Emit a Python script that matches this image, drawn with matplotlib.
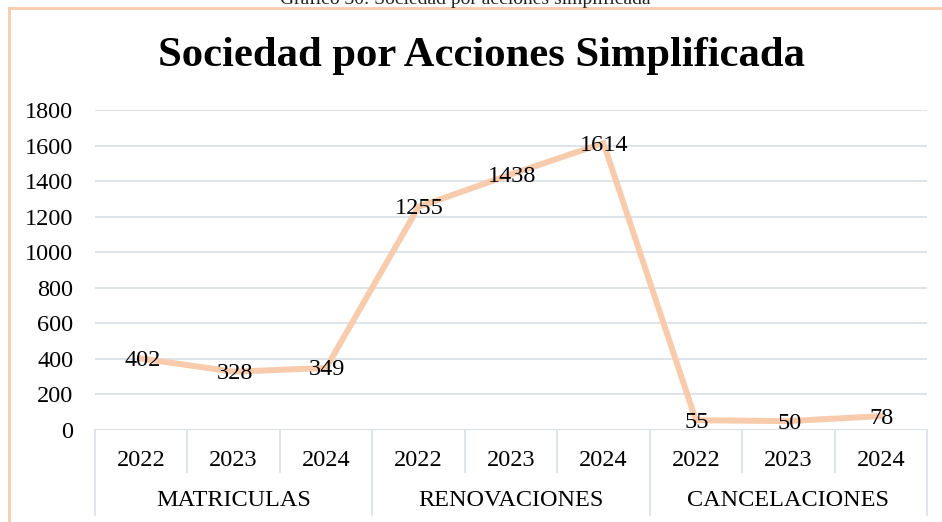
import matplotlib.pyplot as plt
from matplotlib.lines import Line2D

# Datos
grupos = ["MATRICULAS", "RENOVACIONES", "CANCELACIONES"]
anios = ["2022", "2023", "2024"]
valores = [402, 328, 349, 1255, 1438, 1614, 55, 50, 78]
yticks = [0, 200, 400, 600, 800, 1000, 1200, 1400, 1600, 1800]

plt.rcParams['font.family'] = ['Liberation Serif', 'DejaVu Serif']

W, H = 942, 522
fig = plt.figure(figsize=(W / 100, H / 100), dpi=100)

# borde de la figura
fig.add_artist(Line2D([8.5 / W, 8.5 / W], [0, 1 - 7.5 / H], transform=fig.transFigure,
                      color='#F8CBAD', lw=2))
fig.add_artist(Line2D([8.5 / W, 1], [1 - 7.5 / H, 1 - 7.5 / H], transform=fig.transFigure,
                      color='#F8CBAD', lw=2))

# leyenda del gráfico (recortada arriba)
fig.text(465 / W, 1 - 4 / H, "Gráfico 30: Sociedad por acciones simplificada",
         ha='center', va='baseline', fontsize=14, color='#222222')

ax = fig.add_axes([95 / W, 92 / H, 832 / W, 320 / H])
n = len(valores)
x = list(range(n))
ax.plot(x, valores, color='#F8CBAD', lw=4.3, solid_joinstyle='miter', zorder=3)

for xi, v in zip(x, valores):
    ax.annotate(str(v), (xi, v), xytext=(1, -2), textcoords='offset pixels',
                ha='center', va='center', fontsize=17.5, color='black', zorder=4)

ax.set_xlim(-0.5, n - 0.5)
ax.set_ylim(0, 1800)
ax.set_yticks(yticks)
ax.tick_params(axis='y', length=0, pad=15.5, labelsize=17.5)
ax.set_xticks([])
ax.grid(axis='y', color='#D9DEE6', lw=1.2, zorder=0)
for s in ax.spines.values():
    s.set_visible(False)
ax.axhline(0, color='#D9DEE6', lw=1.2, zorder=1)

# separadores del eje de categorías
px = 1 / 320  # un píxel en coordenadas del eje
for i in range(n + 1):
    largo = 85 if i % 3 == 0 else 42
    ax.add_artist(Line2D([i - 0.5, i - 0.5], [0, -largo * px],
                         transform=ax.get_xaxis_transform(), color='#D9DEE6',
                         lw=1.2, clip_on=False))

for i, v in enumerate(valores):
    ax.text(i, -30 * px, anios[i % 3], transform=ax.get_xaxis_transform(),
            ha='center', va='center', fontsize=17.5)
for g, nombre in enumerate(grupos):
    ax.text(g * 3 + 1, -70 * px, nombre, transform=ax.get_xaxis_transform(),
            ha='center', va='center', fontsize=17.5)

fig.text(482 / W, 1 - 56 / H, "Sociedad por Acciones Simplificada",
         ha='center', va='center', fontsize=30.7, fontweight='bold')

fig.savefig("out.png", dpi=100)
